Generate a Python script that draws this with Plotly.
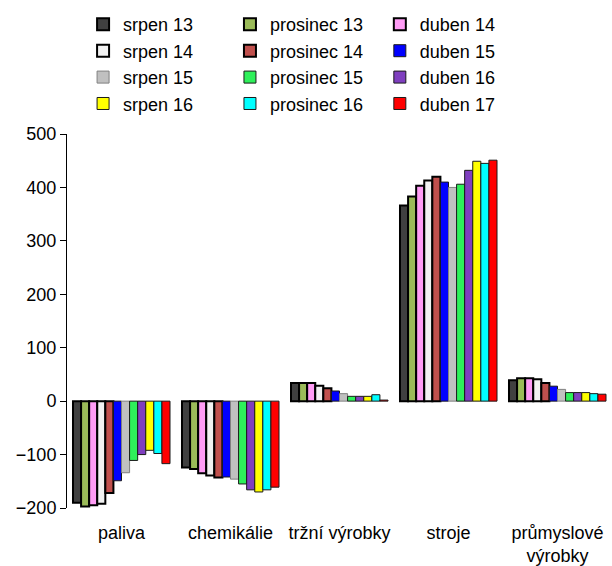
import plotly.graph_objects as go

categories = ["paliva", "chemikálie", "tržní výrobky", "stroje", "průmyslové<br>výrobky"]

series_names = ["srpen 13", "prosinec 13", "duben 14",
                "srpen 14", "prosinec 14", "duben 15",
                "srpen 15", "prosinec 15", "duben 16",
                "srpen 16", "prosinec 16", "duben 17"]

srpen_13 = [-190, -124, 34, 366, 39]
prosinec_13 = [-197, -127, 34, 383, 43]
duben_14 = [-195, -135, 34, 403, 43]
srpen_14 = [-192, -139, 29, 413, 41]
prosinec_14 = [-172, -143, 24, 420, 34]
duben_15 = [-149, -142, 19, 410, 28]
srpen_15 = [-134, -146, 14, 400, 22]
prosinec_15 = [-111, -155, 9, 406, 16]
duben_16 = [-100, -166, 9, 432, 16]
srpen_16 = [-92, -170, 9, 449, 16]
prosinec_16 = [-98, -166, 12, 445, 14]
duben_17 = [-117, -161, 2, 451, 13]

values = [srpen_13, prosinec_13, duben_14, srpen_14, prosinec_14, duben_15,
          srpen_15, prosinec_15, duben_16, srpen_16, prosinec_16, duben_17]

colors = ["#404040", "#9BBB59", "#FF9CF5", "#F2F2F2", "#C0504D", "#0000FF",
          "#C0C0C0", "#2EF05A", "#7F3FBF", "#FFFF00", "#00FFFF", "#FF0000"]
line_colors = ["#000000"] * 5 + ["#1a1a1a", "#808080", "#1a1a1a", "#1a1a1a", "#1a1a1a", "#1a1a1a", "#1a1a1a"]
line_widths = [2, 2, 2, 2, 2, 1, 1, 1, 1, 1, 1, 1]
legend_ids = ["legend", "legend2", "legend3"]

font = "Liberation Sans, Arial, sans-serif"
FS = 18

fig = go.Figure()
for i, (name, vals) in enumerate(zip(series_names, values)):
    fig.add_trace(go.Bar(
        x=categories, y=vals, name=name,
        marker=dict(color=colors[i], line=dict(color=line_colors[i], width=line_widths[i])),
        legend=legend_ids[i % 3],
    ))

leg_common = dict(font=dict(family=font, size=FS, color="black"), bgcolor="rgba(0,0,0,0)",
                  yanchor="top", y=1.342, xanchor="left", tracegroupgap=0, itemwidth=30)

fig.update_layout(
    width=612, height=566,
    margin=dict(l=67, r=0, t=134, b=58),
    paper_bgcolor="white", plot_bgcolor="white",
    font=dict(family=font, size=FS, color="black"),
    barmode="group", bargap=0.11, bargroupgap=0,
    legend=dict(x=0.0295, **leg_common),
    legend2=dict(x=0.299, **leg_common),
    legend3=dict(x=0.574, **leg_common),
    xaxis=dict(type="category", showline=False, showgrid=False, zeroline=False,
               automargin=False,
               ticks="outside", ticklen=8, tickcolor="rgba(0,0,0,0)",
               tickfont=dict(family=font, size=FS)),
    xaxis2=dict(overlaying="x", anchor="free", position=2/7, side="bottom",
                range=[-0.5, 4.5], tickvals=[0.5, 1.5, 2.5, 3.5],
                showline=True, linecolor="black", linewidth=1, automargin=False,
                ticks="outside", ticklen=6, tickcolor="black",
                showticklabels=False, showgrid=False, zeroline=False),
    yaxis=dict(range=[-200, 500], dtick=100, showline=True, linecolor="black", linewidth=1,
               automargin=False,
               ticks="outside", ticklen=6, tickcolor="black", showgrid=False, zeroline=False,
               tickfont=dict(family=font, size=FS)),
)

fig.write_html("out.html")
